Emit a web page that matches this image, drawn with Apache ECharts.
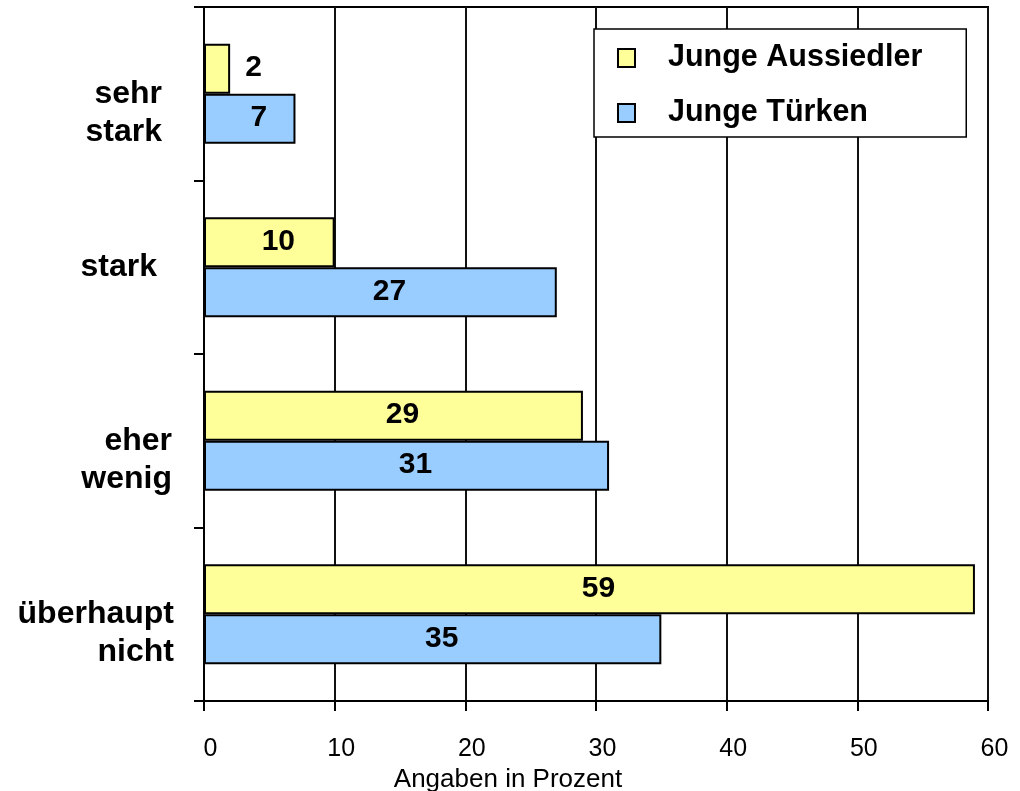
<!DOCTYPE html>
<html>
<head>
<meta charset="utf-8">
<script src="https://cdn.jsdelivr.net/npm/echarts@6/dist/echarts.min.js"></script>
<style>
  html, body { margin: 0; padding: 0; background: #fff; }
  #chart { width: 1020px; height: 791px; }
</style>
</head>
<body>
<div id="chart"></div>
<script>
// Categories (top to bottom) and values in percent
const categories = ['sehr\nstark', 'stark', 'eher\nwenig', 'überhaupt\nnicht'];
const seriesNames = ['Junge Aussiedler', 'Junge Türken'];
const aussiedler = [2, 10, 29, 59];
const tuerken = [7, 27, 31, 35];
const axisName = 'Angaben in Prozent';

const FONT = '"Liberation Sans", Arial, Helvetica, sans-serif';

// Per-category right padding for the left axis labels
const catPadRight = [12, 17, 2, 0];

const chart = echarts.init(document.getElementById('chart'), null, { renderer: 'canvas' });

function barData(values) {
  return values.map(v => {
    const item = { value: v };
    if (v < 5) {
      item.label = { position: 'right', distance: 15, offset: [0, -1] };
    }
    return item;
  });
}

const barStyle = (color) => ({ color: color, borderColor: '#000', borderWidth: 2 });
const labelStyle = {
  show: true,
  position: 'inside',
  offset: [9, -1],
  color: '#000',
  fontFamily: FONT,
  fontWeight: 'bold',
  fontSize: 30
};

chart.setOption({
  animation: false,
  backgroundColor: '#fff',
  grid: {
    left: 204, right: 32, top: 7, bottom: 90,
    outerBoundsMode: 'none',
    containLabel: false,
    show: true, borderColor: '#000', borderWidth: 2, backgroundColor: 'transparent'
  },
  legend: {
    orient: 'vertical',
    left: 594, top: 29,
    data: seriesNames,
    icon: 'rect',
    backgroundColor: '#fff',
    borderColor: '#000',
    borderWidth: 1.5,
    padding: [11, 44, 6, 23],
    itemGap: 19,
    itemWidth: 17,
    itemHeight: 18,
    textStyle: {
      color: '#000', fontFamily: FONT, fontWeight: 'bold', fontSize: 30.5,
      lineHeight: 36, padding: [0, 0, 0, 28]
    }
  },
  xAxis: {
    type: 'value',
    min: 0, max: 60, interval: 10,
    name: axisName,
    nameLocation: 'middle',
    nameGap: 64,
    nameTextStyle: { color: '#000', fontFamily: FONT, fontSize: 26, padding: [0, 176, 0, 0] },
    axisLine: { show: true, lineStyle: { color: '#000', width: 2 } },
    axisTick: { show: true, length: 10, inside: false, lineStyle: { color: '#000', width: 2 } },
    axisLabel: { color: '#000', fontFamily: FONT, fontSize: 25, margin: 36, padding: [0, 0, 0, 13] },
    splitLine: { show: true, lineStyle: { color: '#111', width: 2 } }
  },
  yAxis: {
    type: 'category',
    inverse: true,
    data: categories.map((c, i) => ({
      value: c,
      textStyle: { padding: [0, catPadRight[i], 0, 0] }
    })),
    axisLine: { show: true, lineStyle: { color: '#000', width: 2 } },
    axisTick: { show: true, length: 10, lineStyle: { color: '#000', width: 2 } },
    axisLabel: {
      color: '#000', fontFamily: FONT, fontWeight: 'bold', fontSize: 32,
      lineHeight: 38, align: 'right', margin: 30,
      // two-line labels start at the band centre and run downwards
      formatter: (v) => (v.indexOf('\n') >= 0 ? '\n' + v : v)
    },
    splitLine: { show: false }
  },
  series: [
    {
      name: seriesNames[0],
      type: 'bar',
      data: barData(aussiedler),
      barWidth: 50,
      barGap: '0%',
      itemStyle: barStyle('#FFFF99'),
      label: labelStyle
    },
    {
      name: seriesNames[1],
      type: 'bar',
      data: barData(tuerken),
      barWidth: 50,
      barGap: '0%',
      itemStyle: barStyle('#99CCFF'),
      label: labelStyle
    }
  ]
});
</script>
</body>
</html>
